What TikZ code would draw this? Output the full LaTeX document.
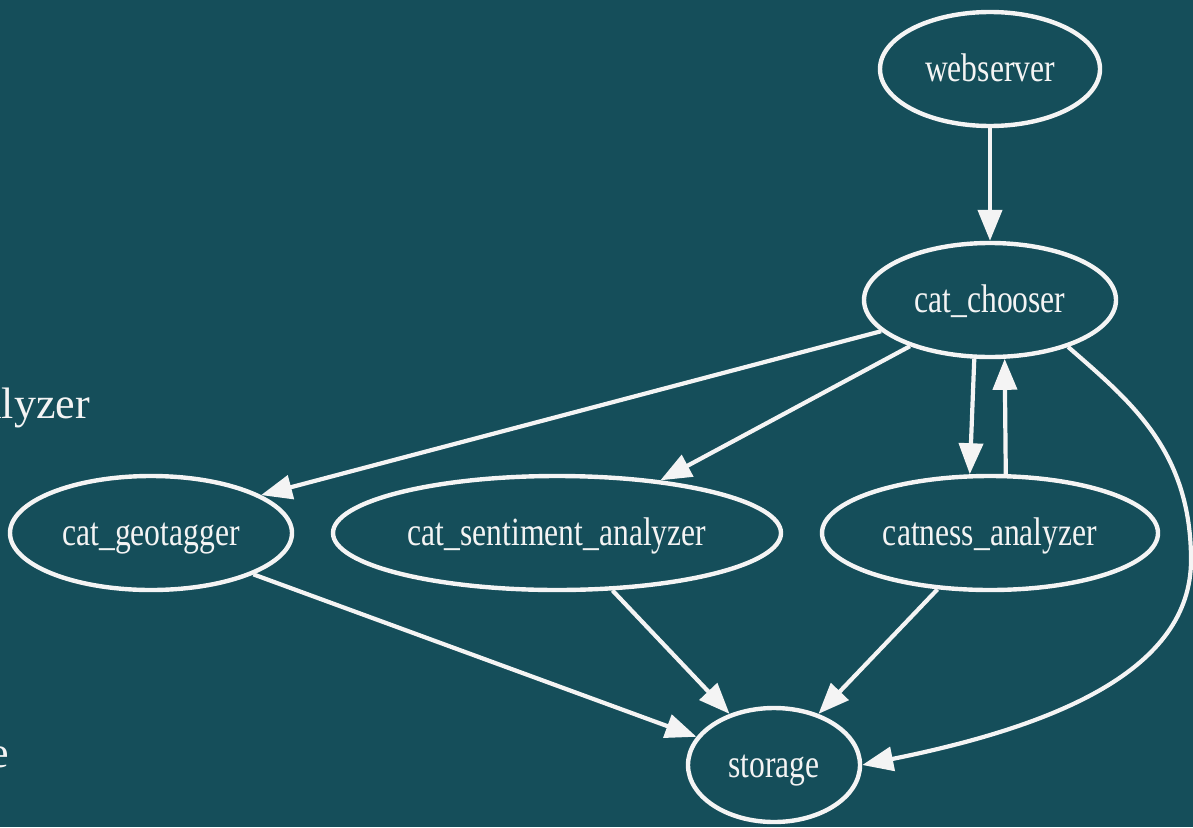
\documentclass[tikz,border=0pt]{standalone}
\usepackage{fontspec}
\usepackage{graphicx}
\setmainfont{Liberation Serif}
\usetikzlibrary{arrows.meta,shapes.geometric}
\definecolor{slidebg}{HTML}{154E5A}
\definecolor{ink}{HTML}{F4F4F4}
% graphviz-style condensed labels
\newcommand{\narrowlabel}[1]{\scalebox{0.79}[1]{#1}}

\begin{document}
\begin{tikzpicture}[x=1pt,y=-1pt,
  proc/.style={ellipse, draw=ink, line width=4.4pt, inner sep=0pt,
    minimum height=114pt, text=ink, text height=24pt, text depth=0pt,
    font=\fontsize{40}{40}\selectfont},
  flow/.style={draw=ink, line width=4.2pt, -{Triangle[length=31pt,width=24pt]}},
  slidetext/.style={text=ink, inner sep=0pt, font=\fontsize{44}{44}\selectfont}
]
\fill[slidebg] (0,0) rectangle (1193,827);
\useasboundingbox (0,0) rectangle (1193,827);
\clip (0,0) rectangle (1193,827);

% slide text partly hidden behind the graph
\node[slidetext, anchor=base east] (frag1) at (90,418) {alyzer};
\node[slidetext, anchor=base east] (frag2) at (9,767) {e};

% services
\node[proc, minimum width=220pt] (web) at (990,69) {\narrowlabel{webserver}};
\node[proc, minimum width=252pt] (chooser) at (990,300) {\narrowlabel{cat\_chooser}};
\node[proc, minimum width=282pt] (geo) at (151,533) {\narrowlabel{cat\_geotagger}};
\node[proc, minimum width=448pt] (senti) at (557,533) {\narrowlabel{cat\_sentiment\_analyzer}};
\node[proc, minimum width=336pt] (catness) at (990,533) {\narrowlabel{catness\_analyzer}};
\node[proc, minimum width=172pt] (storage) at (774,765) {\narrowlabel{storage}};

% message flow
\draw[flow] (web.south) -- (chooser.north);
\draw[flow] (chooser.196.7) -- (geo.19.6);
\draw[flow] (chooser.210.3) -- (senti.27);
\draw[flow] (chooser.255) -- (catness.109.3);
\draw[flow] (catness.75.3) -- (chooser.284.7);
\draw[flow] (geo.338.6) -- (storage.160.6);
\draw[flow] (senti.314.8) -- (storage.131.5);
\draw[flow] (catness.227.4) -- (storage.49.2);
\draw[flow] (chooser.329) .. controls (1130,401) and (1191,450) .. (1191,560)
  .. controls (1191,670) and (1056,726) .. (storage.east);
\end{tikzpicture}
\end{document}
